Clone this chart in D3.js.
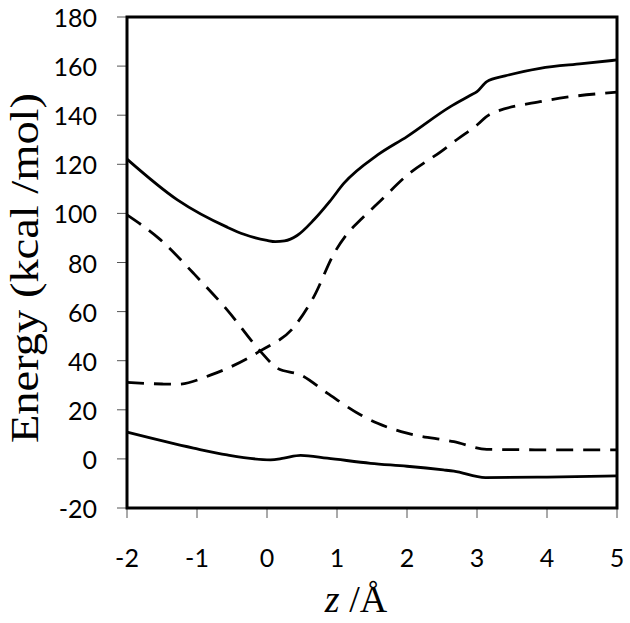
<!DOCTYPE html>
<html>
<head>
<meta charset="utf-8">
<script src="https://cdn.jsdelivr.net/npm/d3@7"></script>
<style>
  html, body { margin: 0; padding: 0; background: #fff; }
</style>
</head>
<body>
<svg id="chart" width="630" height="623"></svg>
<script>
// ---- data ----
const xTicks = [-2, -1, 0, 1, 2, 3, 4, 5];
const yTicks = [-20, 0, 20, 40, 60, 80, 100, 120, 140, 160, 180];

const upperSolidZ = [-2, -1.28, -0.57, -0.33, 0, 0.12, 0.25, 0.43, 0.67, 0.9, 1.1, 1.58, 2.0, 2.62, 2.9, 3.0, 3.14, 3.4, 3.9, 4.5, 5];
const upperSolidE = [122.1, 105.5, 94.4, 91.5, 89.0, 88.5, 88.8, 91.0, 97.4, 105.0, 112.3, 123.8, 131.3, 143.5, 148.0, 149.6, 153.7, 156.0, 159.1, 161.0, 162.5];

const risingDashZ = [-2, -1.5, -1.28, -0.8, -0.09, 0.39, 0.67, 0.96, 1.14, 1.34, 1.58, 2.0, 2.5, 2.71, 3.0, 3.17, 3.9, 5];
const risingDashE = [31.2, 30.5, 30.4, 34.2, 44.1, 53.9, 66.1, 83.8, 91.5, 97.5, 104.0, 115.5, 125.5, 130.0, 136.0, 140.1, 145.5, 149.4];

const fallingDashZ = [-2, -1.52, -1.05, -0.57, -0.09, 0.15, 0.48, 0.86, 1.34, 1.58, 2.0, 2.67, 3.14, 4, 5];
const fallingDashE = [99.4, 89.2, 75.6, 60.7, 43.7, 36.9, 34.2, 26.8, 17.9, 14.5, 10.5, 7.0, 3.9, 3.7, 3.7];

const lowerSolidZ = [-2, -1.05, -0.57, 0.05, 0.24, 0.48, 0.86, 1.48, 2.0, 2.52, 2.67, 3.12, 4, 5];
const lowerSolidE = [10.9, 4.4, 1.6, -0.4, 0.3, 1.4, 0.3, -1.8, -3.0, -4.5, -5.0, -7.6, -7.4, -6.9];

const yTitle = "Energy (kcal /mol)";

// ---- layout ----
const svg = d3.select("#chart");
const pLeft = 127, pRight = 617, pTop = 17, pBottom = 508;

const x = d3.scaleLinear().domain([-2, 5]).range([pLeft, pRight]);
const y = d3.scaleLinear().domain([-20, 180]).range([pBottom, pTop]);

// ticks
const tickColor = "#555";
svg.append("g").selectAll("line").data(yTicks).join("line")
  .attr("x1", pLeft - 10).attr("x2", pLeft)
  .attr("y1", d => y(d)).attr("y2", d => y(d))
  .attr("stroke", tickColor).attr("stroke-width", 1);
svg.append("g").selectAll("line").data(xTicks).join("line")
  .attr("x1", d => x(d)).attr("x2", d => x(d))
  .attr("y1", pBottom).attr("y2", pBottom + 10)
  .attr("stroke", tickColor).attr("stroke-width", 1);

// tick labels
const tickFont = "Lato, 'Open Sans', sans-serif";
svg.append("g").selectAll("text").data(yTicks).join("text")
  .attr("x", 97).attr("y", d => y(d))
  .attr("text-anchor", "end").attr("dominant-baseline", "central")
  .attr("font-family", tickFont).attr("font-size", 25).attr("fill", "#000")
  .text(d => d);
svg.append("g").selectAll("text").data(xTicks).join("text")
  .attr("x", d => x(d)).attr("y", 557)
  .attr("text-anchor", "middle").attr("dominant-baseline", "central")
  .attr("font-family", tickFont).attr("font-size", 25).attr("fill", "#000")
  .text(d => d);

// curves
const line = d3.line().x(d => x(d[0])).y(d => y(d[1])).curve(d3.curveMonotoneX);
const series = [
  { z: upperSolidZ, e: upperSolidE, dash: null },
  { z: risingDashZ, e: risingDashE, dash: "17,10" },
  { z: fallingDashZ, e: fallingDashE, dash: "17,10" },
  { z: lowerSolidZ, e: lowerSolidE, dash: null }
];
svg.append("g").selectAll("path").data(series).join("path")
  .attr("d", s => line(s.z.map((z, i) => [z, s.e[i]])))
  .attr("fill", "none").attr("stroke", "#000").attr("stroke-width", 2.8)
  .attr("stroke-dasharray", s => s.dash);

// frame
svg.append("rect")
  .attr("x", pLeft).attr("y", pTop)
  .attr("width", pRight - pLeft).attr("height", pBottom - pTop)
  .attr("fill", "none").attr("stroke", "#000").attr("stroke-width", 3);

// axis titles
svg.append("text")
  .attr("transform", `translate(38, 268) rotate(-90)`)
  .attr("text-anchor", "middle")
  .attr("font-family", "'Liberation Serif', 'Times New Roman', serif")
  .attr("font-size", 40).attr("fill", "#000")
  .attr("textLength", 350).attr("lengthAdjust", "spacingAndGlyphs")
  .text(yTitle);

const xt = svg.append("text")
  .attr("x", 356).attr("y", 612)
  .attr("text-anchor", "middle")
  .attr("font-family", "'Liberation Serif', 'Times New Roman', serif")
  .attr("font-size", 38).attr("fill", "#000");
xt.append("tspan").attr("font-style", "italic").text("z");
xt.append("tspan").text(" /Å");
</script>
</body>
</html>
